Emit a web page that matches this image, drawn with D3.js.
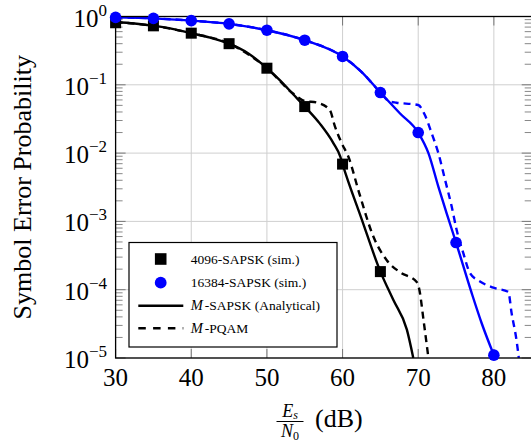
<!DOCTYPE html>
<html>
<head>
<meta charset="utf-8">
<script src="https://cdn.jsdelivr.net/npm/d3@7"></script>
<style>
  html, body { margin: 0; padding: 0; background: #fff; }
  svg { display: block; }
  svg text { font-family: "Liberation Serif", "DejaVu Serif", serif; }
</style>
</head>
<body>
<svg id="chart" width="531" height="442"></svg>
<script>
// Axis ticks
const xTicks = [30, 40, 50, 60, 70, 80];
const yExponents = [0, -1, -2, -3, -4, -5];

// Simulated symbol error rates (markers)
const simSnr4096 = [30, 35, 40, 45, 50, 55, 60, 65];
const simSer4096 = [0.81, 0.73, 0.57, 0.40, 0.175, 0.048, 0.0069, 1.84e-4];
const simSnr16384 = [30, 35, 40, 45, 50, 55, 60, 65, 70, 75, 80];
const simSer16384 = [0.97, 0.94, 0.87, 0.78, 0.63, 0.45, 0.26, 0.077, 0.020, 4.9e-4, 1.1e-5];

// Analytical M-SAPSK curves
const anaSnr4096 = [30, 32.5, 35, 37.5, 40, 42.5, 45, 47.5, 50, 51.7, 53.5, 55, 57, 58.8, 59.7, 60, 62.5, 65, 66.7, 68.5, 69.35];
const anaSer4096 = [0.83, 0.79, 0.73, 0.66, 0.57, 0.49, 0.40, 0.29, 0.175, 0.117, 0.072, 0.048, 0.027, 0.0139, 0.0089, 0.0069, 0.0011, 1.84e-4, 7.1e-5, 2.6e-5, 1e-5];
const anaSnr16384 = [30, 35, 40, 45, 50, 55, 60, 62.5, 65, 67.6, 70, 71.35, 72.67, 73.77, 75, 77.07, 78.4, 80];
const anaSer16384 = [0.97, 0.94, 0.87, 0.78, 0.63, 0.45, 0.26, 0.155, 0.077, 0.038, 0.020, 0.010, 0.0032, 0.0013, 4.9e-4, 8.9e-5, 3.2e-5, 1.1e-5];

// M-PQAM curves
const pqamSnr4096 = [30, 35, 40, 45, 50, 53.5, 55, 56.6, 58.3, 59.0, 59.9, 60.76, 62.2, 64.07, 65.84, 67.6, 69.8, 70.15, 70.7, 71.35];
const pqamSer4096 = [0.83, 0.73, 0.57, 0.40, 0.175, 0.074, 0.058, 0.055, 0.043, 0.0244, 0.0139, 0.0089, 0.0026, 6.0e-4, 2.7e-4, 1.8e-4, 1.3e-4, 1.0e-4, 3.6e-5, 1e-5];
const pqamSnr16384 = [30, 35, 40, 45, 50, 55, 60, 62.5, 65, 66.2, 67.15, 70, 70.88, 71.78, 72.66, 73.54, 74.43, 75.09, 75.97, 76.85, 78.17, 79.94, 81.9, 82.35, 83.0, 83.3];
const pqamSer16384 = [0.97, 0.94, 0.87, 0.78, 0.63, 0.45, 0.26, 0.155, 0.077, 0.057, 0.0547, 0.0506, 0.036, 0.0195, 0.010, 0.0041, 0.00164, 7.4e-4, 3.4e-4, 1.74e-4, 1.32e-4, 1.07e-4, 9.3e-5, 4.5e-5, 1.8e-5, 1.0e-5];

// Legend entries
const legendLabels = ["4096-SAPSK (sim.)", "16384-SAPSK (sim.)", "-SAPSK (Analytical)", "-PQAM"];

const svg = d3.select("#chart");
const plotLeft = 115.6, plotRight = 531.7, plotTop = 16.5, plotBottom = 358;

const x = d3.scaleLinear().domain([30, 85]).range([plotLeft, plotRight]);
const y = d3.scaleLog().domain([1e-5, 1]).range([plotBottom, plotTop]);

const BLUE = "#0000ff";

// grid
const grid = svg.append("g");
xTicks.forEach(t => {
  grid.append("line").attr("x1", x(t)).attr("x2", x(t)).attr("y1", plotTop).attr("y2", plotBottom)
    .attr("stroke", "#cfcfcf").attr("stroke-width", 1);
});
yExponents.forEach(e => {
  grid.append("line").attr("x1", plotLeft).attr("x2", plotRight).attr("y1", y(Math.pow(10, e))).attr("y2", y(Math.pow(10, e)))
    .attr("stroke", "#cfcfcf").attr("stroke-width", 1);
});

// ticks (inward, mirrored on all sides)
const ticks = svg.append("g");
xTicks.forEach(t => {
  ticks.append("line").attr("x1", x(t)).attr("x2", x(t)).attr("y1", plotBottom).attr("y2", plotBottom - 9)
    .attr("stroke", "#777").attr("stroke-width", 1);
  ticks.append("line").attr("x1", x(t)).attr("x2", x(t)).attr("y1", plotTop).attr("y2", plotTop + 9)
    .attr("stroke", "#777").attr("stroke-width", 1);
});
yExponents.forEach(e => {
  const yy = y(Math.pow(10, e));
  [[plotLeft, 1], [plotRight, -1]].forEach(([xx, dir]) => {
    ticks.append("line").attr("x1", xx).attr("x2", xx + dir * 10).attr("y1", yy).attr("y2", yy)
      .attr("stroke", "#777").attr("stroke-width", 1);
  });
  if (e > -5) {
    for (let m = 2; m <= 9; m++) {
      const ym = y(m * Math.pow(10, e - 1));
      [[plotLeft, 1], [plotRight, -1]].forEach(([xx, dir]) => {
        ticks.append("line").attr("x1", xx).attr("x2", xx + dir * 7).attr("y1", ym).attr("y2", ym)
          .attr("stroke", "#888").attr("stroke-width", 1);
      });
    }
  }
});

// curves
svg.append("defs").append("clipPath").attr("id", "plotClip")
  .append("rect").attr("x", plotLeft).attr("y", plotTop).attr("width", plotRight - plotLeft).attr("height", plotBottom - plotTop);

const lineGen = d3.line().x(d => x(d[0])).y(d => y(d[1])).curve(d3.curveMonotoneX);
const curves = svg.append("g").attr("clip-path", "url(#plotClip)");
function drawCurve(xs, ys, color, dashed) {
  curves.append("path")
    .attr("d", lineGen(d3.zip(xs, ys)))
    .attr("fill", "none").attr("stroke", color).attr("stroke-width", 2.4)
    .attr("stroke-linejoin", "round")
    .attr("stroke-dasharray", dashed ? "7,5" : null);
}
drawCurve(pqamSnr4096, pqamSer4096, "#000", true);
drawCurve(pqamSnr16384, pqamSer16384, BLUE, true);
drawCurve(anaSnr4096, anaSer4096, "#000", false);
drawCurve(anaSnr16384, anaSer16384, BLUE, false);

// frame
svg.append("rect").attr("x", plotLeft).attr("y", plotTop).attr("width", plotRight - plotLeft).attr("height", plotBottom - plotTop)
  .attr("fill", "none").attr("stroke", "#000").attr("stroke-width", 1.3);

// markers
const marks = svg.append("g");
const sq = 11;
d3.zip(simSnr4096, simSer4096).forEach(([a, b]) => {
  marks.append("rect").attr("x", x(a) - sq / 2).attr("y", y(b) - sq / 2).attr("width", sq).attr("height", sq).attr("fill", "#000");
});
d3.zip(simSnr16384, simSer16384).forEach(([a, b]) => {
  marks.append("circle").attr("cx", x(a)).attr("cy", y(b)).attr("r", 5.8).attr("fill", BLUE);
});

// x tick labels
const xl = svg.append("g");
xTicks.forEach(t => {
  xl.append("text").attr("x", x(t)).attr("y", plotBottom + 28)
    .attr("font-size", 25).attr("text-anchor", "middle").text(t);
});

// y tick labels
const yl = svg.append("g");
yExponents.forEach(e => {
  const tt = yl.append("text").attr("x", 107).attr("y", y(Math.pow(10, e)) + 10)
    .attr("font-size", 25).attr("text-anchor", "end");
  tt.append("tspan").text("10");
  tt.append("tspan").attr("font-size", 17).attr("dy", -11).text(e === 0 ? "0" : "\u2212" + Math.abs(e));
});

// axis labels
svg.append("text").attr("transform", `translate(31,${(plotTop + plotBottom) / 2}) rotate(-90)`)
  .attr("text-anchor", "middle").attr("font-size", 26).text("Symbol Error Probability");

const fx = 290;
const num = svg.append("text").attr("x", fx).attr("y", 417).attr("text-anchor", "middle").attr("font-size", 18);
num.append("tspan").attr("font-style", "italic").text("E");
num.append("tspan").attr("font-style", "italic").attr("font-size", 12).attr("dy", 1.5).text("s");
svg.append("line").attr("x1", fx - 13.5).attr("x2", fx + 13.5).attr("y1", 421.5).attr("y2", 421.5)
  .attr("stroke", "#000").attr("stroke-width", 1);
const den = svg.append("text").attr("x", fx).attr("y", 437).attr("text-anchor", "middle").attr("font-size", 18);
den.append("tspan").attr("font-style", "italic").text("N");
den.append("tspan").attr("font-size", 12).attr("dy", 2.5).text("0");
svg.append("text").attr("x", 315).attr("y", 426.5).attr("font-size", 26).text("(dB)");

// legend
const lg = svg.append("g");
lg.append("rect").attr("x", 129).attr("y", 242.5).attr("width", 208).attr("height", 104.5)
  .attr("fill", "#fff").attr("stroke", "#000").attr("stroke-width", 1.2);
const rowY = [259, 282.7, 305.7, 328.3];
const mx = 160.7;
lg.append("rect").attr("x", mx - 5.8).attr("y", rowY[0] - 5.8).attr("width", 11.6).attr("height", 11.6).attr("fill", "#000");
lg.append("circle").attr("cx", mx).attr("cy", rowY[1]).attr("r", 5.9).attr("fill", BLUE);
lg.append("line").attr("x1", 138.3).attr("x2", 183.3).attr("y1", rowY[2]).attr("y2", rowY[2])
  .attr("stroke", "#000").attr("stroke-width", 2.4);
lg.append("line").attr("x1", 138.3).attr("x2", 183.3).attr("y1", rowY[3]).attr("y2", rowY[3])
  .attr("stroke", "#000").attr("stroke-width", 2.4).attr("stroke-dasharray", "7.5,7.3");
legendLabels.forEach((lab, i) => {
  const t = lg.append("text").attr("x", 190.7).attr("y", rowY[i] + 4.7).attr("font-size", 13.5);
  if (i >= 2) {
    t.append("tspan").attr("font-style", "italic").attr("font-size", 14.5).text("M");
    t.append("tspan").attr("dx", 2).text(lab);
  } else {
    t.text(lab);
  }
});
</script>
</body>
</html>
